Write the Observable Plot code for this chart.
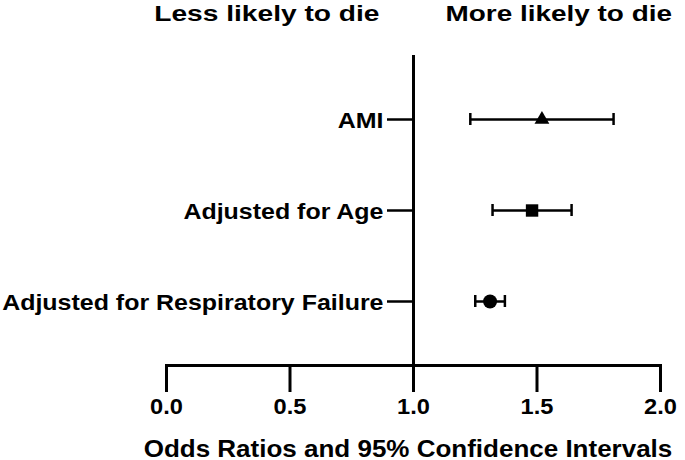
<!DOCTYPE html>
<html>
<head>
<meta charset="utf-8">
<script src="https://cdn.jsdelivr.net/npm/d3@7"></script>
<script src="https://cdn.jsdelivr.net/npm/@observablehq/plot@0.6"></script>
<style>
  html, body { margin: 0; padding: 0; background: #fff; }
  svg { font-family: "Liberation Sans", Arial, sans-serif; }
</style>
</head>
<body>
<div id="chart"></div>
<script>
// Data
const labels = ["AMI", "Adjusted for Age", "Adjusted for Respiratory Failure"];
const oddsRatio = [1.52, 1.48, 1.31];
const ciLow = [1.23, 1.32, 1.25];
const ciHigh = [1.81, 1.64, 1.37];
const markers = ["triangle", "square", "circle"];
const xTicks = [0, 0.5, 1, 1.5, 2];
const leftTitle = "Less likely to die";
const rightTitle = "More likely to die";
const xTitle = "Odds Ratios and 95% Confidence Intervals";

const rows = labels.map((label, i) => ({
  label, or: oddsRatio[i], lo: ciLow[i], hi: ciHigh[i], marker: markers[i]
}));

const font = { fontWeight: "bold", fill: "black" };
const capInset = 17;
const fmt = d3.format(".1f");

const chart = Plot.plot({
  width: 685,
  height: 460,
  marginLeft: 166,
  marginRight: 25,
  marginTop: 55,
  marginBottom: 95,
  style: { fontFamily: "Liberation Sans, Arial, sans-serif", overflow: "visible" },
  x: { domain: [0, 2], ticks: xTicks, tickFormat: fmt },
  y: { domain: labels, type: "band", paddingInner: 0.5, paddingOuter: 0.435, axis: null },
  marks: [
    Plot.frame({ anchor: "bottom", strokeWidth: 3 }),
    Plot.ruleX([1], { strokeWidth: 3 }),
    Plot.axisX({ ticks: xTicks, tickFormat: fmt, tickSize: 27, strokeWidth: 3,
      tickPadding: 6, fontSize: 22.5, fontWeight: "bold", label: null, color: "black" }),
    // y-axis tick marks attached to the reference line at 1.0
    Plot.ruleY(labels, { y: d => d, x1: 1, x2: 1, insetLeft: -26, strokeWidth: 2.5 }),
    Plot.text(labels, { y: d => d, x: 1, dx: -30, dy: 1, textAnchor: "end", fontSize: 22.5, ...font }),
    // confidence intervals
    Plot.ruleY(rows, { y: "label", x1: "lo", x2: "hi", strokeWidth: 2.5 }),
    Plot.tickX(rows, { y: "label", x: "lo", insetTop: capInset, insetBottom: capInset, strokeWidth: 2.5 }),
    Plot.tickX(rows, { y: "label", x: "hi", insetTop: capInset, insetBottom: capInset, strokeWidth: 2.5 }),
    // point estimates
    Plot.dot(rows, { filter: d => d.marker === "triangle", y: "label", x: "or", symbol: "triangle", r: 5.5, fill: "black" }),
    Plot.dot(rows, { filter: d => d.marker === "square", y: "label", x: "or", symbol: "square", r: 7, fill: "black" }),
    Plot.dot(rows, { filter: d => d.marker === "circle", y: "label", x: "or", symbol: "circle", r: 7, fill: "black" }),
    // titles
    Plot.text([leftTitle], { x: 1, frameAnchor: "top", lineAnchor: "bottom", dx: -34, dy: -34.3,
      textAnchor: "end", fontSize: 22, ...font }),
    Plot.text([rightTitle], { x: 1, frameAnchor: "top", lineAnchor: "bottom", dx: 32, dy: -34.3,
      textAnchor: "start", fontSize: 22, ...font }),
    Plot.text([xTitle], { frameAnchor: "bottom", lineAnchor: "bottom", dx: -5.5, dy: 91,
      fontSize: 23.5, ...font })
  ]
});

// The reference typography is horizontally wide; stretch each text about its anchor point.
const stretchBy = new Map([
  [leftTitle, 1.28], [rightTitle, 1.27], [xTitle, 1.107],
  ...labels.map(l => [l, 1.11]),
  ...xTicks.map(t => [fmt(t), 1.05])
]);
d3.select(chart).selectAll("text").each(function () {
  const sx = stretchBy.get(this.textContent.trim());
  if (!sx) return;
  const t = this.getAttribute("transform");
  if (t) this.setAttribute("transform", `${t} scale(${sx},1)`);
  else {
    const x = parseFloat(this.getAttribute("x")) || 0;
    this.setAttribute("transform", `translate(${x},0) scale(${sx},1) translate(${-x},0)`);
  }
});

document.getElementById("chart").appendChild(chart);
</script>
</body>
</html>
